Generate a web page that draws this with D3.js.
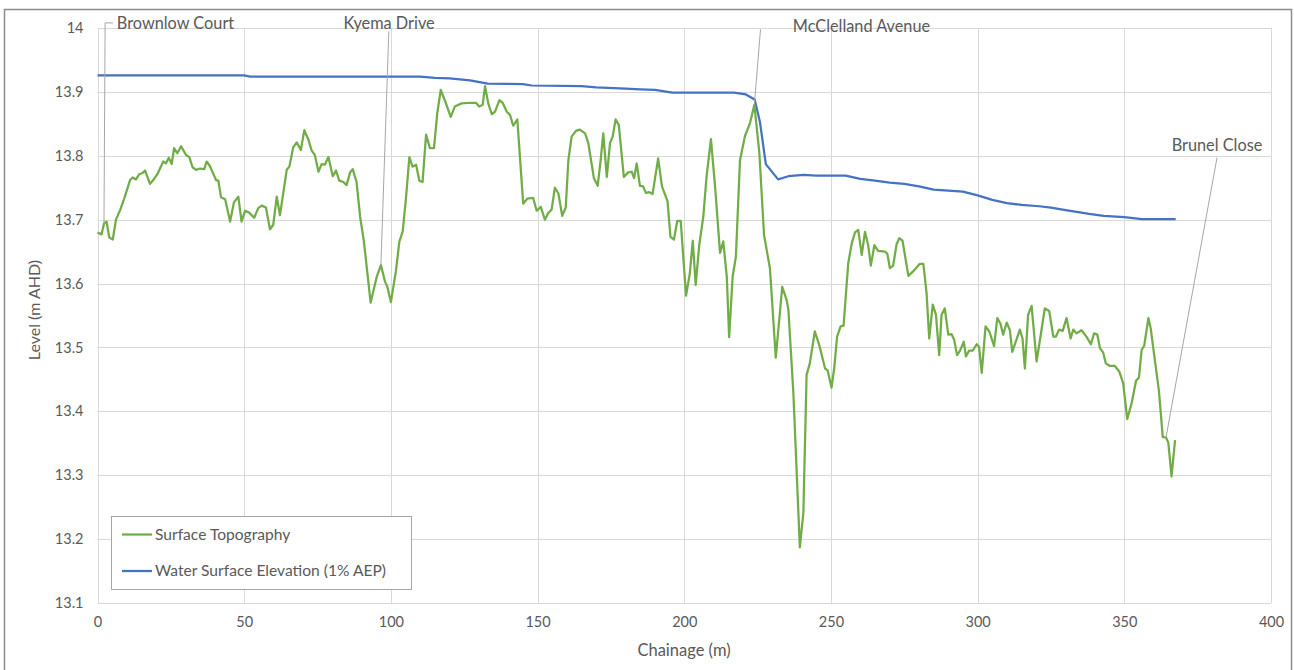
<!DOCTYPE html>
<html>
<head>
<meta charset="utf-8">
<script src="https://cdn.jsdelivr.net/npm/d3@7/dist/d3.min.js"></script>
<style>
  html, body { margin: 0; padding: 0; background: #fff; }
  svg { display: block; }
  text { font-family: Lato, "Open Sans", sans-serif; fill: #595959; }
</style>
</head>
<body>
<svg id="chart" width="1294" height="670"></svg>
<script>
// ---------- data ----------
const topoChainage = [0,1.4,2.2,3.1,4.0,5.2,6.3,7.7,9.1,11.1,12.0,13.1,14.2,15.4,16.2,17.9,19.0,20.5,22.4,23.3,24.3,25.3,26.1,27.2,28.5,30.2,31.3,32.4,33.6,34.9,36.4,37.2,38.3,40.4,41.2,42.1,43.5,45.2,46.5,48.0,49.1,50.3,51.7,53.4,54.8,56.0,57.4,58.8,59.9,61.1,62.2,64.5,65.4,66.7,67.9,69.3,70.5,71.9,73.0,74.1,75.3,76.4,77.5,78.7,80.2,81.3,82.4,83.8,84.9,86.1,87.0,88.3,89.5,90.8,93.1,95.2,96.6,98.0,98.8,100.0,101.7,102.9,104.0,105.1,106.3,107.4,108.6,109.7,110.8,112.0,113.3,114.7,115.8,117.0,118.7,120.4,121.8,124.1,127.0,129.0,130.1,131.3,132.1,133.2,134.4,135.5,137.0,138.1,139.5,140.6,141.7,143.1,145.1,146.5,148.5,149.7,151.1,152.5,153.6,154.8,155.9,157.1,158.4,159.6,160.5,161.6,163.1,164.4,166.2,167.3,169.2,170.5,171.5,172.4,173.6,174.7,175.6,176.6,177.7,179.4,180.9,182.1,182.9,183.8,184.9,186.0,186.9,188.1,189.2,191.1,192.4,194.3,195.3,196.5,197.6,198.8,200.6,201.9,202.9,203.9,205.1,206.5,207.6,209.1,210.5,212.2,213.3,214.5,215.3,216.5,217.6,219.0,220.7,222.4,223.9,225.6,227.2,229.2,231.2,233.4,234.9,235.5,237.2,239.4,240.6,241.7,242.8,244.5,246.0,248.0,248.9,250.2,251.1,252.1,253.3,254.3,255.9,257.1,258.2,259.3,260.5,261.6,262.7,263.6,264.8,266.1,268.4,269.2,270.1,271.2,272.4,273.3,274.4,276.4,278.0,280.3,281.5,282.6,283.5,284.7,285.8,286.9,287.7,288.8,290.0,291.1,292.0,293.0,294.0,295.3,296.0,297.1,298.3,299.7,300.5,301.4,302.7,304.0,305.6,306.7,307.8,308.7,309.9,311.0,311.8,313.3,314.4,315.3,316.1,317.2,318.4,320.1,322.9,324.4,325.8,326.7,327.8,329.0,330.3,331.7,332.6,333.7,335.4,337.1,338.6,339.7,340.8,341.7,342.8,343.7,345.1,346.8,348.3,349.6,351.0,352.5,354.0,355.0,355.9,356.8,358.2,359.0,360.1,361.8,363.1,364.2,365.0,366.1,367.3];
const topoLevel = [13.680,13.677,13.694,13.697,13.672,13.669,13.700,13.715,13.733,13.762,13.766,13.763,13.771,13.773,13.777,13.756,13.762,13.772,13.791,13.788,13.797,13.787,13.812,13.804,13.815,13.801,13.798,13.782,13.778,13.780,13.779,13.791,13.784,13.762,13.761,13.735,13.732,13.697,13.727,13.736,13.697,13.714,13.711,13.703,13.718,13.722,13.719,13.685,13.692,13.736,13.707,13.778,13.783,13.813,13.821,13.809,13.840,13.825,13.808,13.801,13.775,13.787,13.786,13.798,13.768,13.777,13.761,13.759,13.754,13.774,13.779,13.759,13.705,13.666,13.570,13.611,13.629,13.603,13.595,13.571,13.619,13.666,13.681,13.731,13.798,13.783,13.786,13.761,13.759,13.833,13.812,13.812,13.866,13.903,13.883,13.861,13.877,13.882,13.883,13.883,13.877,13.880,13.909,13.882,13.865,13.869,13.887,13.883,13.869,13.864,13.847,13.857,13.725,13.733,13.734,13.714,13.720,13.700,13.710,13.716,13.750,13.741,13.706,13.719,13.793,13.830,13.839,13.841,13.835,13.820,13.765,13.753,13.793,13.835,13.767,13.820,13.830,13.857,13.848,13.767,13.774,13.775,13.765,13.788,13.753,13.752,13.742,13.743,13.740,13.796,13.752,13.729,13.673,13.669,13.698,13.698,13.581,13.616,13.667,13.598,13.660,13.705,13.767,13.826,13.752,13.648,13.666,13.611,13.516,13.611,13.642,13.793,13.831,13.851,13.880,13.804,13.676,13.624,13.484,13.595,13.574,13.559,13.428,13.187,13.241,13.457,13.475,13.525,13.504,13.467,13.464,13.437,13.467,13.517,13.533,13.534,13.632,13.663,13.680,13.684,13.645,13.681,13.660,13.628,13.660,13.651,13.650,13.647,13.624,13.628,13.662,13.671,13.667,13.612,13.619,13.631,13.631,13.585,13.514,13.567,13.551,13.488,13.551,13.561,13.520,13.521,13.512,13.488,13.495,13.509,13.486,13.495,13.495,13.505,13.501,13.460,13.533,13.525,13.502,13.546,13.537,13.520,13.539,13.527,13.493,13.513,13.528,13.514,13.467,13.551,13.565,13.478,13.561,13.557,13.517,13.517,13.528,13.526,13.546,13.514,13.528,13.522,13.527,13.517,13.505,13.522,13.520,13.499,13.492,13.475,13.471,13.471,13.462,13.444,13.388,13.413,13.448,13.453,13.496,13.503,13.546,13.530,13.491,13.432,13.360,13.359,13.351,13.298,13.355];

const wseChainage = [0,50,52,110,115,120,127,133,145,148,165,170,180,185,190,196,217,221,224,225.8,227.8,232,235.5,240.6,245,255,260,265,270,275,280,285,295,300,305,310,315,321,325,330,338,343,350,356,367.5];
const wseLevel = [13.926,13.926,13.924,13.924,13.922,13.921,13.918,13.913,13.912,13.910,13.909,13.907,13.905,13.904,13.903,13.899,13.899,13.896,13.888,13.853,13.787,13.763,13.768,13.770,13.769,13.769,13.764,13.761,13.758,13.756,13.752,13.747,13.744,13.738,13.731,13.726,13.723,13.721,13.719,13.715,13.709,13.706,13.704,13.701,13.701];

const xTicks = [0,50,100,150,200,250,300,350,400];
const yTicks = [13.1,13.2,13.3,13.4,13.5,13.6,13.7,13.8,13.9,14];

const seriesNames = ["Surface Topography", "Water Surface Elevation (1% AEP)"];
const seriesColors = ["#70ad47", "#4472c4"];

// annotation labels: name, target point (chainage, level), label anchor (chainage, level)
const annoNames = ["Brownlow Court", "Kyema Drive", "McClelland Avenue", "Brunel Close"];
const annoTargetCh = [2.2, 96.6, 223.9, 364.2];
const annoTargetLv = [13.694, 13.629, 13.880, 13.359];
const annoLabelCh = [6.6, 99.4, 237.0, 381.6];
const annoLabelLv = [14.008, 14.008, 14.002, 13.817];
const annoLeaderCh = [2.6, 99.3, 226.0, 381.6];
const annoLeaderLv = [14.008, 13.995, 13.998, 13.797];

// ---------- chart ----------
const svg = d3.select("#chart");

// outer chart border
svg.append("rect").attr("x", 4.5).attr("y", 9.5).attr("width", 1287).attr("height", 670)
  .attr("fill", "#fff").attr("stroke", "#8c8c8c").attr("stroke-width", 1.5);

const x = d3.scaleLinear().domain([0, 400]).range([97.5, 1271]);
const y = d3.scaleLinear().domain([13.1, 14]).range([603, 28]);

// gridlines
const grid = svg.append("g");
grid.selectAll("line.h").data(yTicks).join("line")
  .attr("x1", x(0)).attr("x2", x(400))
  .attr("y1", d => Math.round(y(d)) + 0.5).attr("y2", d => Math.round(y(d)) + 0.5)
  .attr("stroke", "#d9d9d9").attr("stroke-width", 1);
grid.selectAll("line.v").data(xTicks).join("line")
  .attr("y1", y(14)).attr("y2", y(13.1))
  .attr("x1", d => Math.round(x(d)) + 0.5).attr("x2", d => Math.round(x(d)) + 0.5)
  .attr("stroke", "#d9d9d9").attr("stroke-width", 1);

// axes (labels only)
const xAxis = d3.axisBottom(x).tickValues(xTicks).tickSize(0).tickPadding(14).tickFormat(d3.format("d"));
const gx = svg.append("g").attr("transform", `translate(0,${y(13.1)})`).call(xAxis);
gx.select(".domain").remove();
gx.selectAll("text").style("font-size", "14.5px").attr("fill", "#595959");

const yAxis = d3.axisLeft(y).tickValues(yTicks).tickSize(0).tickPadding(14).tickFormat(d => d3.format("")(+d.toFixed(1)));
const gy = svg.append("g").attr("transform", `translate(${x(0)},0)`).call(yAxis);
gy.select(".domain").remove();
gy.selectAll("text").style("font-size", "14.5px").attr("fill", "#595959");

// axis titles
svg.append("text").attr("x", 684).attr("y", 656).attr("text-anchor", "middle")
  .style("font-size", "16.5px").text("Chainage (m)");
svg.append("text").attr("transform", "translate(40,310) rotate(-90)").attr("text-anchor", "middle")
  .style("font-size", "16px").text("Level (m AHD)");

// lines
const line = d3.line().x(d => x(d[0])).y(d => y(d[1]));
const topo = topoChainage.map((c, i) => [c, topoLevel[i]]);
const wse = wseChainage.map((c, i) => [c, wseLevel[i]]);

svg.append("path").datum(wse).attr("d", line).attr("fill", "none")
  .attr("stroke", seriesColors[1]).attr("stroke-width", 2.25).attr("stroke-linejoin", "round");
svg.append("path").datum(topo).attr("d", line).attr("fill", "none")
  .attr("stroke", seriesColors[0]).attr("stroke-width", 2.25).attr("stroke-linejoin", "round");

// annotations
const anno = svg.append("g");
annoNames.forEach((name, i) => {
  const tx = x(annoTargetCh[i]), ty = y(annoTargetLv[i]);
  const lx = x(annoLeaderCh[i]), ly = y(annoLeaderLv[i]);
  anno.append("line").attr("x1", lx).attr("y1", ly).attr("x2", tx).attr("y2", ty)
    .attr("stroke", "#a6a6a6").attr("stroke-width", 1);
  if (i === 0) {
    anno.append("line").attr("x1", lx).attr("y1", ly).attr("x2", x(annoLabelCh[i]) - 4).attr("y2", ly)
      .attr("stroke", "#a6a6a6").attr("stroke-width", 1);
  }
  const anchor = (i === 1 || i === 3) ? "middle" : "start";
  anno.append("text").attr("x", x(annoLabelCh[i])).attr("y", y(annoLabelLv[i]))
    .attr("dy", "0.35em").attr("text-anchor", anchor)
    .style("font-size", "16.3px").text(name);
});

// legend
const lg = svg.append("g");
lg.append("rect").attr("x", 111.5).attr("y", 516.5).attr("width", 300).attr("height", 73)
  .attr("fill", "#fff").attr("stroke", "#a6a6a6").attr("stroke-width", 1);
seriesNames.forEach((name, i) => {
  const yy = 534.5 + i * 36.5;
  lg.append("line").attr("x1", 122).attr("x2", 152).attr("y1", yy).attr("y2", yy)
    .attr("stroke", seriesColors[i]).attr("stroke-width", 2.25);
  lg.append("text").attr("x", 155).attr("y", yy).attr("dy", "0.35em")
    .style("font-size", "15.6px").text(name);
});
</script>
</body>
</html>
